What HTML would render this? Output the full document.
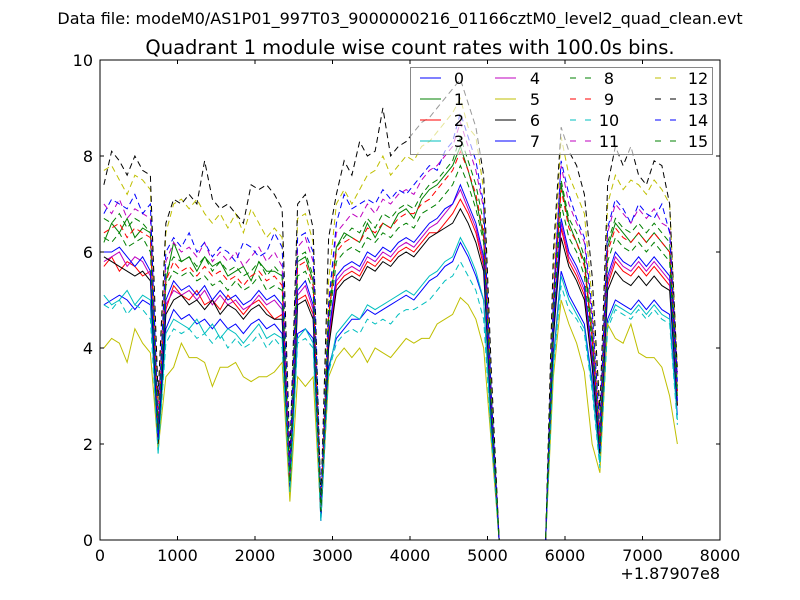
<!DOCTYPE html>
<html><head><meta charset="utf-8"><style>
body{margin:0;background:#fff;}
svg{display:block;font-family:"DejaVu Sans","Liberation Sans",sans-serif;}
</style></head><body>
<svg id="chart" width="800" height="600" viewBox="0 0 800 600">
<rect x="0" y="0" width="800" height="600" fill="#fff"/>
<text x="400" y="24" font-size="16" text-anchor="middle">Data file: modeM0/AS1P01_997T03_9000000216_01166cztM0_level2_quad_clean.evt</text>
<text x="410" y="54" font-size="19.5" text-anchor="middle">Quadrant 1 module wise count rates with 100.0s bins.</text>
<g id="plot"></g>
</svg>
<script>
const xTicks=[0,1000,2000,3000,4000,5000,6000,7000,8000];
const yTicks=[0,2,4,6,8,10];
const seriesNames=["0","1","2","3","4","5","6","7","8","9","10","11","12","13","14","15"];
const s0=[4.9,5.0,5.1,5.0,4.8,5.0,4.9,1.9,4.4,4.8,4.6,4.7,4.5,4.6,4.4,4.6,4.4,4.5,4.3,4.5,4.6,4.4,4.5,4.3,1.0,4.3,4.4,4.2,0.4,3.6,4.2,4.4,4.6,4.6,4.8,4.7,4.8,4.9,5.0,5.1,5.0,5.2,5.4,5.5,5.7,5.8,6.2,5.9,5.5,5.0,2.2,0,0,0,0,0,0,0,3.8,5.6,5.1,4.8,4.5,3.3,1.6,4.6,5.0,4.9,4.8,5.0,4.8,5.0,4.8,4.7,2.6];
const s1=[6.2,6.6,6.4,6.7,6.3,6.5,6.4,2.2,5.4,6.2,5.8,5.9,5.6,5.9,5.7,5.8,5.5,5.6,5.7,5.4,5.8,5.6,5.6,5.5,1.2,5.8,5.9,5.4,0.6,4.6,6.1,6.4,6.3,6.2,6.6,6.3,6.6,6.5,6.8,6.9,6.7,7.1,7.3,7.4,7.6,7.8,8.2,7.7,7.1,6.3,2.8,0,0,0,0,0,0,0,4.9,7.4,6.6,6.2,5.8,4.3,2.0,6.1,6.6,6.4,6.2,6.4,6.2,6.4,6.2,6.0,3.1];
const s2=[5.7,5.9,5.6,5.8,5.7,5.5,5.6,2.1,4.8,5.3,5.1,5.0,5.2,4.9,5.0,4.8,5.1,4.9,4.7,4.9,5.0,4.8,4.6,4.7,1.1,5.0,5.1,4.7,0.5,4.1,5.3,5.5,5.6,5.5,5.8,5.7,5.9,5.8,6.0,6.1,6.0,6.2,6.4,6.4,6.6,6.8,7.1,6.8,6.4,5.7,2.5,0,0,0,0,0,0,0,4.3,6.5,5.8,5.5,5.1,3.7,1.8,5.3,5.8,5.6,5.5,5.7,5.5,5.7,5.5,5.3,2.8];
const s3=[5.1,4.9,5.0,5.2,4.9,5.1,5.0,1.8,4.3,4.6,4.5,4.4,4.6,4.3,4.5,4.2,4.4,4.3,4.1,4.3,4.5,4.2,4.3,4.2,1.0,4.2,4.4,4.1,0.4,3.5,4.3,4.5,4.7,4.6,4.9,4.8,4.9,5.0,5.1,5.2,5.1,5.3,5.5,5.6,5.8,5.9,6.3,6.0,5.6,5.0,2.2,0,0,0,0,0,0,0,3.7,5.5,5.0,4.7,4.4,3.2,1.6,4.5,4.9,4.8,4.7,4.9,4.7,4.9,4.7,4.6,2.5];
const s4=[5.8,5.9,6.0,5.7,5.9,5.8,5.5,2.2,4.9,5.2,5.1,5.2,5.0,5.2,4.9,5.1,4.9,5.0,4.8,4.9,5.1,4.9,5.0,4.8,1.2,5.1,5.3,4.8,0.5,4.2,5.4,5.6,5.7,5.6,5.9,5.8,6.0,5.9,6.1,6.2,6.1,6.3,6.5,6.6,6.8,7.0,7.3,6.9,6.5,5.8,2.6,0,0,0,0,0,0,0,4.4,6.6,5.9,5.6,5.2,3.8,1.9,5.4,5.9,5.7,5.6,5.8,5.6,5.8,5.6,5.4,2.9];
const s5=[4.0,4.2,4.1,3.7,4.4,4.1,3.9,1.9,3.4,3.6,4.1,3.8,3.8,3.7,3.2,3.6,3.6,3.7,3.4,3.3,3.4,3.4,3.5,3.7,0.8,3.4,3.2,3.4,0.5,3.4,3.8,4.0,3.8,4.0,3.7,4.0,3.9,3.8,4.0,4.2,4.1,4.2,4.2,4.5,4.6,4.7,5.05,4.9,4.6,4.0,2.0,0,0,0,0,0,0,0,3.4,5.0,4.5,4.1,3.5,2.0,1.4,4.5,4.2,4.1,4.5,3.9,3.8,3.8,3.6,3.0,2.0];
const s6=[5.9,5.8,5.7,5.6,5.5,5.6,5.4,2.0,4.7,5.0,5.1,4.9,5.0,4.8,5.0,4.7,4.9,4.8,4.6,4.8,4.9,4.7,4.6,4.6,1.1,4.9,5.0,4.6,0.5,4.0,5.2,5.4,5.5,5.4,5.7,5.6,5.8,5.7,5.9,6.0,5.9,6.1,6.3,6.4,6.5,6.6,6.9,6.6,6.2,5.6,2.5,0,0,0,0,0,0,0,4.2,6.3,5.7,5.4,5.0,3.6,1.8,5.2,5.6,5.4,5.3,5.5,5.3,5.5,5.3,5.2,2.8];
const s7=[6.0,6.0,6.1,5.9,5.7,5.9,5.6,2.1,5.0,5.4,5.2,5.3,5.1,5.3,5.0,5.2,5.0,5.1,4.9,5.0,5.2,5.0,5.1,4.9,1.1,5.2,5.4,4.9,0.5,4.3,5.5,5.7,5.8,5.7,6.0,5.9,6.1,6.0,6.2,6.3,6.2,6.4,6.6,6.7,6.9,7.0,7.4,7.0,6.6,5.9,2.6,0,0,0,0,0,0,0,4.5,6.7,6.0,5.7,5.3,3.9,1.9,5.5,6.0,5.8,5.7,5.9,5.7,5.9,5.7,5.5,2.9];
const s8=[6.7,6.6,6.8,6.5,6.7,6.6,6.4,2.5,5.6,5.9,5.8,5.9,5.7,5.9,5.6,5.8,5.6,5.7,5.5,5.6,5.8,5.5,5.7,5.5,1.3,5.9,6.0,5.5,0.6,4.8,6.1,6.3,6.5,6.4,6.7,6.5,6.8,6.7,6.9,7.0,6.9,7.2,7.4,7.5,7.7,7.9,8.4,7.9,7.4,6.6,2.9,0,0,0,0,0,0,0,5.0,7.5,6.7,6.4,5.9,4.4,2.1,6.2,6.7,6.5,6.4,6.6,6.4,6.6,6.4,6.2,3.2];
const s9=[6.4,6.5,6.6,6.3,6.5,6.4,6.3,2.4,5.4,5.8,5.6,5.7,5.5,5.7,5.5,5.6,5.4,5.5,5.3,5.5,5.6,5.4,5.5,5.3,1.3,5.7,5.8,5.3,0.6,4.7,6.0,6.2,6.3,6.2,6.5,6.4,6.6,6.5,6.7,6.8,6.8,7.0,7.1,7.3,7.5,7.7,8.1,7.7,7.2,6.4,2.9,0,0,0,0,0,0,0,4.9,7.3,6.5,6.2,5.7,4.2,2.0,6.0,6.5,6.3,6.2,6.4,6.2,6.4,6.2,6.0,3.1];
const s10=[4.9,4.8,5.0,4.7,4.9,4.8,4.6,1.8,4.1,4.4,4.3,4.4,4.2,4.3,4.1,4.3,4.0,4.2,4.0,4.1,4.3,4.0,4.2,4.0,1.0,4.1,4.2,4.0,0.4,3.5,4.1,4.3,4.4,4.3,4.6,4.5,4.6,4.5,4.7,4.8,4.8,4.9,5.0,5.2,5.4,5.5,5.8,5.5,5.2,4.6,2.1,0,0,0,0,0,0,0,3.6,5.3,4.8,4.6,4.3,3.1,1.5,4.4,4.8,4.7,4.6,4.8,4.6,4.8,4.6,4.5,2.4];
const s11=[7.0,6.8,7.1,6.7,6.9,6.8,6.7,2.7,5.8,6.2,6.0,6.1,5.9,6.2,5.8,6.0,5.8,6.0,5.7,5.9,6.1,5.8,6.0,5.7,1.4,6.1,6.3,5.8,0.7,5.0,6.4,6.6,6.8,6.7,7.0,6.8,7.1,7.0,7.2,7.3,7.2,7.5,7.7,7.8,8.0,8.2,8.7,8.2,7.7,6.9,3.1,0,0,0,0,0,0,0,5.2,7.8,7.0,6.6,6.2,4.6,2.2,6.4,7.0,6.8,6.6,6.9,6.7,6.9,6.6,6.5,3.4];
const s12=[7.7,7.8,7.5,7.2,7.6,7.5,7.3,2.9,6.4,7.0,7.1,6.9,7.1,6.8,6.6,6.8,6.5,6.8,6.4,6.9,6.6,6.3,6.5,6.3,1.6,6.7,6.8,6.2,0.8,5.4,7.0,7.3,7.0,7.3,7.6,7.7,8.0,7.6,7.8,8.0,7.9,8.2,8.3,8.5,8.7,8.9,9.2,8.6,8.4,7.3,3.2,0,0,0,0,0,0,0,5.6,8.4,7.6,7.2,6.8,5.0,2.4,7.0,7.6,7.3,7.5,7.4,7.2,7.5,7.3,7.0,3.6];
const s13=[7.4,8.1,7.9,7.6,8.0,7.7,7.6,3.0,6.6,7.1,7.0,7.2,7.0,7.9,7.1,6.9,7.0,6.8,6.6,7.4,7.3,7.4,7.2,6.9,1.8,7.0,7.2,6.5,0.8,6.3,7.2,7.9,7.6,8.3,8.0,8.1,9.0,8.0,8.2,8.3,8.5,8.7,8.8,9.0,9.2,9.4,9.6,9.1,8.6,7.6,3.5,0,0,0,0,0,0,0,6.0,8.6,8.1,7.8,7.2,5.5,2.7,7.4,8.2,7.8,8.2,7.6,7.4,7.9,7.8,7.0,3.5];
const s14=[6.8,7.1,7.0,6.9,7.2,6.8,7.0,2.4,6.0,6.3,6.1,6.4,6.0,6.2,5.9,6.1,6.0,5.8,6.2,6.1,5.9,6.0,6.4,6.1,1.5,6.3,6.4,6.0,0.8,4.9,6.6,7.2,6.9,7.0,7.1,7.0,7.3,7.1,7.3,7.2,7.4,7.6,7.8,7.7,8.1,8.3,8.9,8.4,7.9,7.0,3.0,0,0,0,0,0,0,0,5.0,7.9,7.2,6.7,6.3,4.8,2.3,6.5,7.1,6.9,6.6,7.0,6.8,6.7,7.0,6.4,3.3];
const s15=[6.3,6.2,6.4,6.1,6.2,6.3,6.0,2.3,5.3,5.6,5.5,5.6,5.4,5.5,5.3,5.4,5.2,5.4,5.2,5.3,5.5,5.2,5.3,5.2,1.2,5.5,5.6,5.2,0.6,4.5,5.8,6.0,6.1,6.0,6.3,6.2,6.4,6.3,6.5,6.6,6.5,6.8,6.9,7.0,7.2,7.4,7.8,7.4,6.9,6.2,2.8,0,0,0,0,0,0,0,4.7,7.0,6.3,6.0,5.5,4.1,2.0,5.8,6.3,6.1,6.0,6.2,6.0,6.2,6.0,5.8,3.0];
const seriesValues=[s0,s1,s2,s3,s4,s5,s6,s7,s8,s9,s10,s11,s12,s13,s14,s15];
const binStart=50, binWidth=100;

const colors=["#0000ff","#008000","#ff0000","#00bfbf","#bf00bf","#bfbf00","#000000","#0000ff","#008000","#ff0000","#00bfbf","#bf00bf","#bfbf00","#000000","#0000ff","#008000"];
const L=100,R=720,T=60,B=540;
const xs=v=>L+(v-0)/8000*(R-L);
const ys=v=>B-(v/10)*(B-T);
const NS="http://www.w3.org/2000/svg";
const g=document.getElementById('plot');
function mk(tag,attrs,parent){const e=document.createElementNS(NS,tag);for(const k in attrs)e.setAttribute(k,attrs[k]);(parent||g).appendChild(e);return e;}

const clip=mk('clipPath',{id:'pc'});mk('rect',{x:L,y:T-1,width:R-L,height:B-T+2},clip);
const lines=mk('g',{'clip-path':'url(#pc)'});


seriesValues.forEach((arr,si)=>{
  const d=arr.map((v,i)=>(i?'L':'M')+xs(binStart+i*binWidth).toFixed(2)+','+ys(v).toFixed(2)).join(' ');
  const p=mk('path',{d:d,fill:'none',stroke:colors[si],'stroke-width':1,'stroke-dasharray':si>=8?'6,4':'none'},lines);
  
  
});

const frame=mk('rect',{x:L,y:T,width:R-L,height:B-T,fill:'none',stroke:'#000','stroke-width':1});



xTicks.forEach(t=>{
  const x=xs(t);
  mk('line',{x1:x,x2:x,y1:B,y2:B-4,stroke:'#000'});
  mk('line',{x1:x,x2:x,y1:T,y2:T+4,stroke:'#000'});
  const tx=mk('text',{x:x,y:B+21,'font-size':16,'text-anchor':'middle'});tx.textContent=t;
  
  
});
yTicks.forEach(t=>{
  const y=ys(t);
  mk('line',{x1:L,x2:L+4,y1:y,y2:y,stroke:'#000'});
  mk('line',{x1:R,x2:R-4,y1:y,y2:y,stroke:'#000'});
  const tx=mk('text',{x:L-7,y:y+6,'font-size':16,'text-anchor':'end'});tx.textContent=t;
  
  
});
const off=mk('text',{x:R,y:579,'font-size':16,'text-anchor':'end'});off.textContent='+1.87907e8';



const leg=mk('g',{});


mk('rect',{x:410.5,y:67.5,width:302,height:87,fill:'#fff','fill-opacity':0.6,stroke:'#888'},leg);
const colLine=[420,495,570,655], colText=[459,535,609,698], rowY=[78,99,120,141];
seriesNames.forEach((n,si)=>{
  const c=Math.floor(si/4), r=si%4;
  const e=mk('g',{},leg);
  
  
  mk('line',{x1:colLine[c],x2:colLine[c]+21,y1:rowY[r],y2:rowY[r],stroke:colors[si],'stroke-width':1,'stroke-dasharray':si>=8?'6,9':'none'},e);
  const t=mk('text',{x:colText[c],y:rowY[r]+6,'font-size':16,'text-anchor':'middle'},e);t.textContent=n;
});
</script>
</body></html>
